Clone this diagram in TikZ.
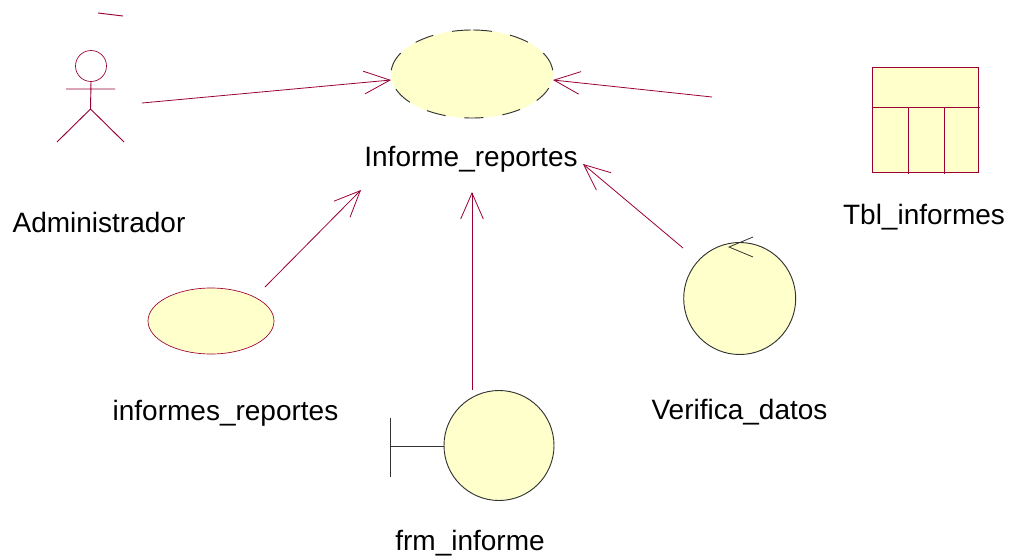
\documentclass[tikz,border=0pt]{standalone}
\usepackage{fontspec}
\setmainfont{Liberation Sans}
\usetikzlibrary{arrows.meta,shapes.geometric}
\definecolor{umlline}{HTML}{990033}
\definecolor{umlfill}{HTML}{FFFFCC}
\definecolor{umldark}{HTML}{333333}
\tikzset{
  x=0.75pt,y=-0.75pt,
  lbl/.style={font=\fontsize{21pt}{25pt}\selectfont,text=black,inner sep=0pt,anchor=base},
  link/.style={draw=umlline,line width=0.6pt,-{Straight Barb[length=19.5pt,width=17pt,line width=0.6pt]}},
  pen/.style={draw=umlline,line width=0.7pt},
  darkpen/.style={draw=umldark,line width=0.6pt},
  ucdash/.style={ellipse,fill=umlfill,inner sep=0pt,minimum width=121.5pt,minimum height=66pt},
  uc/.style={ellipse,draw=umlline,fill=umlfill,line width=0.5pt,inner sep=0pt,minimum width=94.5pt,minimum height=49.5pt},
  ctrl/.style={circle,draw=umldark,fill=umlfill,line width=0.7pt,inner sep=0pt,minimum size=84pt},
  bound/.style={circle,draw=umldark,fill=umlfill,line width=0.7pt,inner sep=0pt,minimum size=82.5pt}
}
\begin{document}
\begin{tikzpicture}
\useasboundingbox (0,0) rectangle (1011,557);
% main use case
\node[ucdash] (main) at (472,74) {};
\foreach \a/\b in {104.3/90.7,89.3/75.7,134/118.6,62/46.3,28.4/5,-18.6/-37,-53.6/-68,-82/-95.4,-109/-123.8,-140/-160,175/151.6}
  \draw[darkpen,line width=0.7pt] plot[domain=\a:\b,samples=12,smooth] ({472+81*cos(\x)},{74-44*sin(\x)});
\node[lbl] (mainl) at (471,166) {Informe\_reportes};
% actor
\node[circle,pen,line width=0.5pt,inner sep=0pt,minimum size=23.25pt] (head) at (91,66) {};
\coordinate (hip) at (90.5,109);
\coordinate (armL) at (66,89);
\coordinate (armR) at (115,89);
\coordinate (legL) at (57,142);
\coordinate (legR) at (124,142);
\draw[pen] (head.south) -- (hip) (armL) -- (armR) (legL) -- (hip) -- (legR);
\coordinate (stA) at (98,13);
\coordinate (stB) at (123,16);
\draw[pen] (stA) -- (stB);
\node[lbl] (actl) at (99,232.5) {Administrador};
% table
\coordinate (tTL) at (872.5,67.5);
\coordinate (tBR) at (978.5,172.5);
\fill[umlfill] (tTL) rectangle (tBR);
\draw[pen] (tTL) rectangle (tBR);
\coordinate (tH1) at (872.5,107);
\coordinate (tH2) at (980,107);
\coordinate (tV1a) at (908.5,107);
\coordinate (tV1b) at (908.5,173.5);
\coordinate (tV2a) at (944,107);
\coordinate (tV2b) at (944,173.5);
\draw[pen] (tH1) -- (tH2) (tV1a) -- (tV1b) (tV2a) -- (tV2b);
\node[lbl] (tbll) at (924,224) {Tbl\_informes};
% use case 2
\node[uc] (uc2) at (211,321) {};
\node[lbl] (uc2l) at (225.5,420) {informes\_reportes};
% boundary
\node[bound] (bnd) at (499,445.5) {};
\coordinate (barT) at (390.5,418);
\coordinate (barB) at (390.5,476.5);
\coordinate (barM) at (390.5,446.5);
\draw[darkpen] (barT) -- (barB);
\draw[darkpen] (barM) -- (bnd.west |- barM);
\node[lbl] (bndl) at (470,550) {frm\_informe};
% control
\node[ctrl] (ctl) at (739.7,298.5) {};
\coordinate (ctip) at (729,247);
\coordinate (cA) at (753,237);
\coordinate (cB) at (753,257);
\draw[darkpen] (cA) -- (ctip) -- (cB);
\node[lbl] (ctll) at (739.5,419) {Verifica\_datos};
% connector ends
\coordinate (a1s) at (142,103);
\coordinate (a1e) at (391,80);
\coordinate (a2s) at (712,97);
\coordinate (a2e) at (553,80);
\coordinate (a3s) at (265,287);
\coordinate (a3e) at (361,190);
\coordinate (a4s) at (472,390);
\coordinate (a4e) at (472,192);
\coordinate (a5s) at (683,248);
\coordinate (a5e) at (583,164);
\draw[link] (a1s) -- (a1e);
\draw[link] (a2s) -- (a2e);
\draw[link] (a3s) -- (a3e);
\draw[link] (a4s) -- (a4e);
\draw[link] (a5s) -- (a5e);
\end{tikzpicture}
\end{document}
